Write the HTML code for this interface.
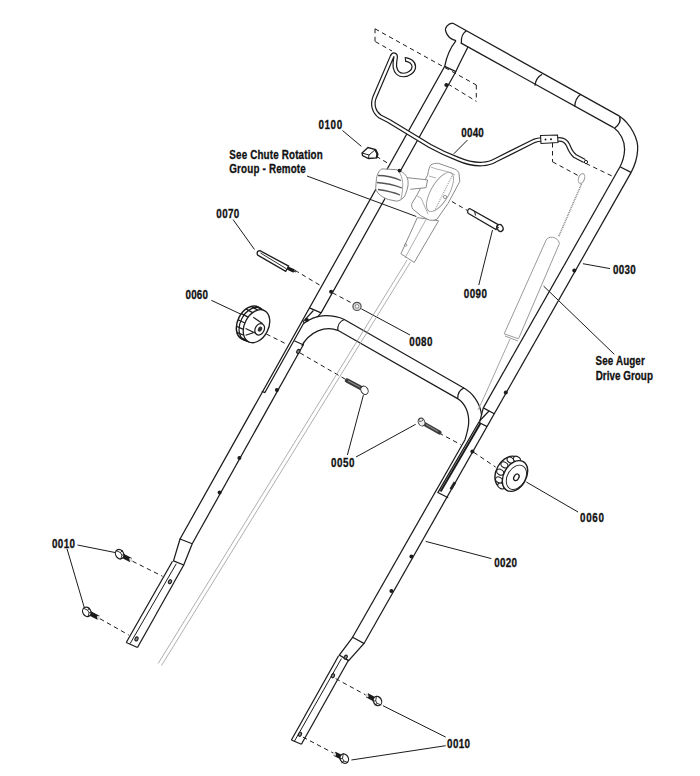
<!DOCTYPE html>
<html><head><meta charset="utf-8"><style>
html,body{margin:0;padding:0;background:#fff;}
svg{display:block;}
text{font-family:"Liberation Sans",sans-serif;fill:#111;stroke:#111;stroke-width:0.3px;}
</style></head><body>
<svg width="700" height="776" viewBox="0 0 700 776">
<rect width="700" height="776" fill="#fff"/>
<path d="M453,23.2 C448,23.5 444.5,27.5 445.8,31.5 C447,35.5 451,39.5 456,40.7" stroke="#1c1c1c" stroke-width="1.25" fill="none" />
<path d="M466.4,30.7 C462.5,33 461,36.5 461.4,43" stroke="#1c1c1c" stroke-width="1.25" fill="none" />
<line x1="453" y1="23.22" x2="619" y2="115.85" stroke="#1c1c1c" stroke-width="1.25" />
<line x1="460.7" y1="42.9" x2="613.6" y2="127.61" stroke="#1c1c1c" stroke-width="1.25" />
<path d="M542.1,74.3 C538,76.5 535.5,80.5 535,85.7" stroke="#1c1c1c" stroke-width="1.25" fill="none" />
<path d="M580.5,94.5 C577,97 575,101 574.8,106.5" stroke="#1c1c1c" stroke-width="1.25" fill="none" />
<path d="M619.4,116.6 C621.5,120 619,125 614.8,128" stroke="#1c1c1c" stroke-width="1.25" fill="none" />
<path d="M619,115.85080000000002 C631,124 639,140 637.6,150.6 C637,160 634,167 631,172.6" stroke="#1c1c1c" stroke-width="1.25" fill="none" />
<path d="M613.6,127.60660000000001 C620,132 625,141 624.6,149.5 C624.3,157 622,163 620,166.8" stroke="#1c1c1c" stroke-width="1.25" fill="none" />
<path d="M620,166.8 L631,172.4" stroke="#1c1c1c" stroke-width="1.25" fill="none" />
<line x1="631" y1="172.6" x2="364.0" y2="643.5" stroke="#1c1c1c" stroke-width="1.25" />
<line x1="620" y1="166.8" x2="483.3" y2="407.9" stroke="#1c1c1c" stroke-width="1.25" />
<path d="M483.29630000000003,407.9 L494.2963,413.7" stroke="#1c1c1c" stroke-width="1.25" fill="none" />
<path d="M483.29630000000003,407.9 L479.5,422.7 L487.2,426.6" stroke="#1c1c1c" stroke-width="1.25" fill="none" />
<path d="M479.5,421 L489,411" stroke="#1c1c1c" stroke-width="1.25" fill="none" />
<path d="M456,40.7 C451,47 446.5,57 444.7,66.4 L180.04399999999993,539" stroke="#1c1c1c" stroke-width="1.25" fill="none" />
<path d="M467.9,47 C464,55 459,64 455.9,71.6 L321.13395,312.9" stroke="#1c1c1c" stroke-width="1.25" fill="none" />
<line x1="444.7" y1="66.4" x2="455.9" y2="71.6" stroke="#1c1c1c" stroke-width="1.25" />
<line x1="309.46" y1="307.9" x2="321.13" y2="312.9" stroke="#1c1c1c" stroke-width="1.25" />
<path d="M303.6,323.4 C309,319.5 315,316.3 322,315.8 C330,315.3 338,316.5 344.3,319.5 L463.4,387.8 C472,392.5 480,402 481.6,415" stroke="#1c1c1c" stroke-width="1.25" fill="none" />
<path d="M301.9,346.1 C304,341 310,334 318,330.8 C325,328 332,328 337.8,330.3 L457.6,398.6 C465,403 469.5,413 468.6,424 C468,430 466.5,435 465,439.8" stroke="#1c1c1c" stroke-width="1.25" fill="none" />
<path d="M344.3,319.5 C340,321 337.5,325.5 337.8,330.3" stroke="#1c1c1c" stroke-width="1.25" fill="none" />
<path d="M464,388 C459.5,390 457.5,394 457.8,398.4" stroke="#1c1c1c" stroke-width="1.25" fill="none" />
<line x1="294.3" y1="340.7" x2="303.6" y2="345" stroke="#1c1c1c" stroke-width="1.25" />
<line x1="303.6" y1="344.3" x2="192.2" y2="543.75" stroke="#1c1c1c" stroke-width="1.25" />
<path d="M313.4,310.5 L302.7,322.1" stroke="#1c1c1c" stroke-width="1.25" fill="none" />
<line x1="321.13" y1="312.9" x2="317.3" y2="317.2" stroke="#1c1c1c" stroke-width="1.25" />
<path d="M304.364,322 L264.88399999999996,392.5 L261.78399999999993,391.3" stroke="#1c1c1c" stroke-width="1.25" fill="none" />
<path d="M479.1,421.8 L437.9,492.6 L448.2,497.8" stroke="#1c1c1c" stroke-width="1.25" fill="none" />
<line x1="480.6" y1="423" x2="440.6" y2="491.5" stroke="#1c1c1c" stroke-width="2.0" />
<line x1="450.8" y1="489.2" x2="455" y2="482.3" stroke="#222" stroke-width="2.8" />
<path d="M180.04399999999993,539 L173.5,560.8 L183.75,565 L192.204225,543.75 Z" stroke="#1c1c1c" stroke-width="1.25" fill="none" />
<line x1="172.5" y1="561.25" x2="126.25" y2="642.5" stroke="#1c1c1c" stroke-width="1.25" />
<line x1="183.75" y1="565" x2="137.5" y2="647.5" stroke="#1c1c1c" stroke-width="1.25" />
<line x1="176.25" y1="563.75" x2="130" y2="643.75" stroke="#1c1c1c" stroke-width="1.0" />
<line x1="126.25" y1="642.5" x2="137.5" y2="647.5" stroke="#1c1c1c" stroke-width="1.25" />
<line x1="465" y1="439.8" x2="352.6" y2="637.3" stroke="#1c1c1c" stroke-width="1.25" />
<path d="M352.6,637.3 L339.3,655.1 L348.6,660.6 L363.9997,643.5 Z" stroke="#1c1c1c" stroke-width="1.25" fill="none" />
<line x1="338.6" y1="655.7" x2="291.4" y2="740" stroke="#1c1c1c" stroke-width="1.25" />
<line x1="348.6" y1="660" x2="301.4" y2="744.3" stroke="#1c1c1c" stroke-width="1.25" />
<line x1="341.4" y1="658.6" x2="294.3" y2="741.4" stroke="#1c1c1c" stroke-width="1.0" />
<line x1="291.4" y1="740" x2="301.4" y2="744.3" stroke="#1c1c1c" stroke-width="1.25" />
<circle cx="446.3" cy="85" r="2.0" fill="#1c1c1c"/>
<circle cx="331.1" cy="291.7" r="2.0" fill="#1c1c1c"/>
<circle cx="306.9" cy="320" r="2.0" fill="#1c1c1c"/>
<circle cx="276.9" cy="389.9" r="2.0" fill="#1c1c1c"/>
<circle cx="239.4" cy="457.9" r="2.0" fill="#1c1c1c"/>
<circle cx="219.6" cy="492.6" r="2.0" fill="#1c1c1c"/>
<circle cx="574.3" cy="270.6" r="2.0" fill="#1c1c1c"/>
<circle cx="505.8" cy="392.5" r="2.0" fill="#1c1c1c"/>
<circle cx="472.4" cy="451.6" r="2.0" fill="#1c1c1c"/>
<circle cx="411.4" cy="556.6" r="2.0" fill="#1c1c1c"/>
<circle cx="391.4" cy="590.9" r="2.0" fill="#1c1c1c"/>
<ellipse cx="170" cy="581.7" rx="1.5" ry="2.1" transform="rotate(30 170 581.7)" fill="#888" stroke="#1c1c1c" stroke-width="1.1"/>
<ellipse cx="136.5" cy="638.9" rx="1.5" ry="2.1" transform="rotate(30 136.5 638.9)" fill="#888" stroke="#1c1c1c" stroke-width="1.1"/>
<ellipse cx="332.9" cy="675.7" rx="1.5" ry="2.1" transform="rotate(30 332.9 675.7)" fill="#888" stroke="#1c1c1c" stroke-width="1.1"/>
<ellipse cx="300" cy="734.3" rx="1.5" ry="2.1" transform="rotate(30 300 734.3)" fill="#888" stroke="#1c1c1c" stroke-width="1.1"/>
<ellipse cx="345.7" cy="657.1" rx="1.5" ry="2.1" transform="rotate(30 345.7 657.1)" fill="#888" stroke="#1c1c1c" stroke-width="1.1"/>
<ellipse cx="298.3" cy="351.4" rx="1.5" ry="2.1" transform="rotate(30 298.3 351.4)" fill="#888" stroke="#1c1c1c" stroke-width="1.1"/>
<line x1="375" y1="28.8" x2="476.3" y2="85" stroke="#1c1c1c" stroke-width="1.0" stroke-dasharray="4.5 3.5" />
<line x1="375" y1="28.8" x2="375" y2="41.3" stroke="#1c1c1c" stroke-width="1.0" stroke-dasharray="4.5 3.5" />
<line x1="375.3" y1="41.6" x2="392" y2="51" stroke="#1c1c1c" stroke-width="1.0" stroke-dasharray="4.5 3.5" />
<line x1="448" y1="84" x2="476.3" y2="101.3" stroke="#1c1c1c" stroke-width="1.0" stroke-dasharray="4.5 3.5" />
<line x1="476.3" y1="85" x2="476.3" y2="101.3" stroke="#1c1c1c" stroke-width="1.0" stroke-dasharray="4.5 3.5" />
<path d="M405.5,59.3 C409.5,59.8 414,62.5 413.8,67 C413.5,71.5 408.5,75 403.5,75 C399,75 395.8,72 395,67.5 C394.4,63.5 395.3,59.5 395.6,57.5 C396,54.5 393.2,53.5 391.9,56.8 L374.5,97.5 C372,104 373.5,112 380,116.5 L388.8,121 L430,146 C440,151.5 450,156 458,159 C466,162.5 474,164.3 482,164 C488,163.6 492,162.3 495,160.5 L534,141 C537,139.8 539,139.5 541.4,139.5 L558,139.5 C563,139 566,141 568,145 C570,150 571,153 575,156 L584.5,161" stroke="#1c1c1c" stroke-width="4.7" fill="none" stroke-linejoin="round"/>
<path d="M405.5,59.3 C409.5,59.8 414,62.5 413.8,67 C413.5,71.5 408.5,75 403.5,75 C399,75 395.8,72 395,67.5 C394.4,63.5 395.3,59.5 395.6,57.5 C396,54.5 393.2,53.5 391.9,56.8 L374.5,97.5 C372,104 373.5,112 380,116.5 L388.8,121 L430,146 C440,151.5 450,156 458,159 C466,162.5 474,164.3 482,164 C488,163.6 492,162.3 495,160.5 L534,141 C537,139.8 539,139.5 541.4,139.5 L558,139.5 C563,139 566,141 568,145 C570,150 571,153 575,156 L584.5,161" stroke="#fff" stroke-width="2.3" fill="none" stroke-linejoin="round"/>
<line x1="405.2" y1="57" x2="405.7" y2="61.6" stroke="#1c1c1c" stroke-width="1.1" />
<path d="M540.5,135.5 L557.5,135 L558,142.5 L541,143.5 Z" stroke="#1c1c1c" stroke-width="1.1" fill="#fff" />
<circle cx="545.5" cy="139.5" r="1.0" fill="#1c1c1c"/>
<circle cx="551" cy="139.2" r="1.0" fill="#1c1c1c"/>
<circle cx="586" cy="162" r="1.6" fill="#fff" stroke="#1c1c1c" stroke-width="1"/>
<line x1="552.5" y1="143" x2="552.5" y2="161.8" stroke="#1c1c1c" stroke-width="1.0" stroke-dasharray="4.5 3.5" />
<line x1="552.5" y1="161.8" x2="578" y2="175.5" stroke="#1c1c1c" stroke-width="1.0" stroke-dasharray="4.5 3.5" />
<line x1="586" y1="163.5" x2="613.6" y2="176.8" stroke="#1c1c1c" stroke-width="1.0" stroke-dasharray="4.5 3.5" />
<text transform="translate(318.4 129.1) scale(0.8 1)" x="0" y="0" font-size="12.3" font-weight="bold" textLength="29.75" lengthAdjust="spacing">0100</text>
<text transform="translate(229.3 159.2) scale(0.8 1)" x="0" y="0" font-size="12.3" font-weight="bold" textLength="116.75" lengthAdjust="spacing">See Chute Rotation</text>
<text transform="translate(229.3 173.3) scale(0.8 1)" x="0" y="0" font-size="12.3" font-weight="bold" textLength="95.62" lengthAdjust="spacing">Group - Remote</text>
<text transform="translate(216.3 217.8) scale(0.8 1)" x="0" y="0" font-size="12.3" font-weight="bold" textLength="28.75" lengthAdjust="spacing">0070</text>
<text transform="translate(185.5 299) scale(0.8 1)" x="0" y="0" font-size="12.3" font-weight="bold" textLength="28.12" lengthAdjust="spacing">0060</text>
<text transform="translate(461.3 137) scale(0.8 1)" x="0" y="0" font-size="12.3" font-weight="bold" textLength="28.12" lengthAdjust="spacing">0040</text>
<text transform="translate(463.8 297.5) scale(0.8 1)" x="0" y="0" font-size="12.3" font-weight="bold" textLength="29.00" lengthAdjust="spacing">0090</text>
<text transform="translate(409.2 345.6) scale(0.8 1)" x="0" y="0" font-size="12.3" font-weight="bold" textLength="29.12" lengthAdjust="spacing">0080</text>
<text transform="translate(612.9 274.3) scale(0.8 1)" x="0" y="0" font-size="12.3" font-weight="bold" textLength="28.50" lengthAdjust="spacing">0030</text>
<text transform="translate(595.6 365.3) scale(0.8 1)" x="0" y="0" font-size="12.3" font-weight="bold" textLength="61.50" lengthAdjust="spacing">See Auger</text>
<text transform="translate(595.7 380) scale(0.8 1)" x="0" y="0" font-size="12.3" font-weight="bold" textLength="71.50" lengthAdjust="spacing">Drive Group</text>
<text transform="translate(331 467.2) scale(0.8 1)" x="0" y="0" font-size="12.3" font-weight="bold" textLength="29.38" lengthAdjust="spacing">0050</text>
<text transform="translate(580 521.5) scale(0.8 1)" x="0" y="0" font-size="12.3" font-weight="bold" textLength="30.00" lengthAdjust="spacing">0060</text>
<text transform="translate(494.3 567) scale(0.8 1)" x="0" y="0" font-size="12.3" font-weight="bold" textLength="28.50" lengthAdjust="spacing">0020</text>
<text transform="translate(52 547.5) scale(0.8 1)" x="0" y="0" font-size="12.3" font-weight="bold" textLength="28.75" lengthAdjust="spacing">0010</text>
<text transform="translate(447.1 747.8) scale(0.8 1)" x="0" y="0" font-size="12.3" font-weight="bold" textLength="28.62" lengthAdjust="spacing">0010</text>
<line x1="342.5" y1="130.5" x2="361.3" y2="146.3" stroke="#1c1c1c" stroke-width="1.0" />
<line x1="307" y1="176" x2="416.3" y2="216.5" stroke="#1c1c1c" stroke-width="1.0" />
<line x1="467.5" y1="140" x2="453.8" y2="153.8" stroke="#1c1c1c" stroke-width="1.0" />
<line x1="233" y1="219.5" x2="254.5" y2="249.5" stroke="#1c1c1c" stroke-width="1.0" />
<line x1="211.3" y1="300.3" x2="241.1" y2="314.3" stroke="#1c1c1c" stroke-width="1.0" />
<line x1="492.5" y1="230" x2="478.8" y2="285" stroke="#1c1c1c" stroke-width="1.0" />
<line x1="361.3" y1="308.8" x2="410" y2="335" stroke="#1c1c1c" stroke-width="1.0" />
<line x1="582.9" y1="263.7" x2="610" y2="268.6" stroke="#1c1c1c" stroke-width="1.0" />
<line x1="543.6" y1="286.1" x2="614.3" y2="354.3" stroke="#1c1c1c" stroke-width="1.0" />
<line x1="363.4" y1="395.1" x2="347.4" y2="455" stroke="#1c1c1c" stroke-width="1.0" />
<line x1="415.7" y1="424.3" x2="356" y2="457" stroke="#1c1c1c" stroke-width="1.0" />
<line x1="526.3" y1="482" x2="578" y2="512" stroke="#1c1c1c" stroke-width="1.0" />
<line x1="425.7" y1="541.4" x2="491.4" y2="558.6" stroke="#1c1c1c" stroke-width="1.0" />
<line x1="77.5" y1="545" x2="115" y2="552.5" stroke="#1c1c1c" stroke-width="1.0" />
<line x1="67" y1="548.75" x2="85" y2="610" stroke="#1c1c1c" stroke-width="1.0" />
<line x1="382.9" y1="705.7" x2="445.7" y2="737.1" stroke="#1c1c1c" stroke-width="1.0" />
<line x1="351.4" y1="760" x2="445.7" y2="745.7" stroke="#1c1c1c" stroke-width="1.0" />
<line x1="376.3" y1="156.3" x2="388.8" y2="163.8" stroke="#1c1c1c" stroke-width="1.0" stroke-dasharray="4.5 3.5" />
<line x1="445" y1="197.5" x2="468.8" y2="211.3" stroke="#1c1c1c" stroke-width="1.0" stroke-dasharray="4.5 3.5" />
<line x1="295" y1="270.3" x2="320" y2="285.3" stroke="#1c1c1c" stroke-width="1.0" stroke-dasharray="4.5 3.5" />
<line x1="332.5" y1="292.8" x2="352.9" y2="303.6" stroke="#1c1c1c" stroke-width="1.0" stroke-dasharray="4.5 3.5" />
<line x1="266.3" y1="334" x2="286.3" y2="344" stroke="#1c1c1c" stroke-width="1.0" stroke-dasharray="4.5 3.5" />
<line x1="300" y1="352.9" x2="345.1" y2="379.1" stroke="#1c1c1c" stroke-width="1.0" stroke-dasharray="4.5 3.5" />
<line x1="439" y1="433" x2="460.8" y2="444.6" stroke="#1c1c1c" stroke-width="1.0" stroke-dasharray="4.5 3.5" />
<line x1="473.7" y1="452.3" x2="495.7" y2="467.1" stroke="#1c1c1c" stroke-width="1.0" stroke-dasharray="4.5 3.5" />
<line x1="132.5" y1="561.25" x2="162.5" y2="576.25" stroke="#1c1c1c" stroke-width="1.0" stroke-dasharray="4.5 3.5" />
<line x1="100" y1="618.75" x2="128.75" y2="635" stroke="#1c1c1c" stroke-width="1.0" stroke-dasharray="4.5 3.5" />
<line x1="335.7" y1="678.6" x2="367.1" y2="695.7" stroke="#1c1c1c" stroke-width="1.0" stroke-dasharray="4.5 3.5" />
<line x1="302.9" y1="737.1" x2="335.7" y2="754.3" stroke="#1c1c1c" stroke-width="1.0" stroke-dasharray="4.5 3.5" />
<circle cx="357" cy="306.4" r="4.1" fill="#d8d8d8" stroke="#555" stroke-width="1.2"/>
<circle cx="357" cy="306.4" r="1.8" fill="#fff" stroke="#777" stroke-width="0.8"/>
<path d="M469.6,208.6 L497.8,224.4 L496,229.6 L468.5,213.6 C467,212.6 467.5,208.8 469.6,208.6 Z" stroke="#1c1c1c" stroke-width="1.2" fill="#fff" />
<line x1="474.5" y1="210.8" x2="475.5" y2="215.5" stroke="#1c1c1c" stroke-width="1.0" />
<ellipse cx="500" cy="228" rx="2.9" ry="3.6" transform="rotate(-30 500 228)" fill="#fff" stroke="#1c1c1c" stroke-width="1.3"/>
<line x1="496.5" y1="226.5" x2="498.5" y2="228" stroke="#333" stroke-width="1.8" />
<line x1="347" y1="380.5" x2="361" y2="388" stroke="#3a3a3a" stroke-width="4.4" stroke-linecap="round"/>
<line x1="348" y1="380.8" x2="360" y2="387.2" stroke="#888" stroke-width="1.2" />
<ellipse cx="364.5" cy="390.3" rx="3.4" ry="4.4" transform="rotate(-30 364.5 390.3)" fill="#fff" stroke="#333" stroke-width="1"/>
<line x1="424.5" y1="424" x2="439.5" y2="432.5" stroke="#3a3a3a" stroke-width="4.2" stroke-linecap="round"/>
<line x1="426" y1="424.6" x2="438" y2="431.4" stroke="#888" stroke-width="1.2" />
<ellipse cx="421.5" cy="422" rx="3.2" ry="4.2" transform="rotate(-25 421.5 422)" fill="#eee" stroke="#444" stroke-width="1"/>
<ellipse cx="421" cy="419.8" rx="2.4" ry="1.4" transform="rotate(-25 421 419.8)" fill="none" stroke="#444" stroke-width="0.8"/>
<path d="M260,250.7 C256.5,250.5 256.5,255 258.6,255.7 L285.7,271.4 L288.6,266.1 Z" stroke="#1c1c1c" stroke-width="1.3" fill="#fff" />
<path d="M260.5,253 L286,268.5" stroke="#333" stroke-width="1.0" fill="none" />
<line x1="287.5" y1="268" x2="294.2" y2="271.2" stroke="#1a1a1a" stroke-width="3.6" />
<line x1="294" y1="271.2" x2="296" y2="272" stroke="#1c1c1c" stroke-width="1.0" />
<path d="M362,153 L368,147.5 L375.5,149.5 L377.5,154 L376.5,158 L368.5,158.5 L362.5,155.5 Z" stroke="#1c1c1c" stroke-width="1.3" fill="#fff" />
<path d="M362,153 L369,155 L375.5,149.5 M369,155 L368.5,158.5" stroke="#1c1c1c" stroke-width="1.0" fill="none" />
<path d="M375.5,150 L377.5,154 L376.5,158" stroke="#1c1c1c" stroke-width="2.0" fill="none" />
<line x1="119.6" y1="554.2" x2="130.8" y2="560" stroke="#1a1a1a" stroke-width="4.6" />
<ellipse cx="130.8" cy="560" rx="1.3" ry="2.2" transform="rotate(-30 130.8 560)" fill="#ddd"/>
<g transform="translate(119.6 554.2) rotate(-28)">
<ellipse cx="0" cy="0" rx="4.0" ry="4.9" fill="#fff" stroke="#1c1c1c" stroke-width="1.2"/>
<path d="M-1.5,-5 L1.5,-1 L1.5,2 L-1.5,5.2 M1.5,-1 L4.4,-2 M1.5,2 L4.4,2.5" stroke="#1c1c1c" stroke-width="0.8" fill="none"/>
</g>
<line x1="86.8" y1="611.8" x2="98.5" y2="617.8" stroke="#1a1a1a" stroke-width="4.6" />
<ellipse cx="98.5" cy="617.8" rx="1.3" ry="2.2" transform="rotate(-30 98.5 617.8)" fill="#ddd"/>
<g transform="translate(86.8 611.8) rotate(-28)">
<ellipse cx="0" cy="0" rx="4.0" ry="4.9" fill="#fff" stroke="#1c1c1c" stroke-width="1.2"/>
<path d="M-1.5,-5 L1.5,-1 L1.5,2 L-1.5,5.2 M1.5,-1 L4.4,-2 M1.5,2 L4.4,2.5" stroke="#1c1c1c" stroke-width="0.8" fill="none"/>
</g>
<line x1="377.5" y1="701" x2="367" y2="695.3" stroke="#1a1a1a" stroke-width="4.6" />
<ellipse cx="367" cy="695.3" rx="1.3" ry="2.2" transform="rotate(-30 367 695.3)" fill="#ddd"/>
<g transform="translate(377.5 701) rotate(-28)">
<ellipse cx="0" cy="0" rx="4.0" ry="4.9" fill="#fff" stroke="#1c1c1c" stroke-width="1.2"/>
<path d="M1.5,-5 L-1.5,-1 L-1.5,2 L1.5,5.2 M-1.5,-1 L-4.4,-2 M-1.5,2 L-4.4,2.5" stroke="#1c1c1c" stroke-width="0.8" fill="none"/>
</g>
<line x1="344.3" y1="758.6" x2="334.5" y2="753.8" stroke="#1a1a1a" stroke-width="4.6" />
<ellipse cx="334.5" cy="753.8" rx="1.3" ry="2.2" transform="rotate(-30 334.5 753.8)" fill="#ddd"/>
<g transform="translate(344.3 758.6) rotate(-28)">
<ellipse cx="0" cy="0" rx="4.0" ry="4.9" fill="#fff" stroke="#1c1c1c" stroke-width="1.2"/>
<path d="M1.5,-5 L-1.5,-1 L-1.5,2 L1.5,5.2 M-1.5,-1 L-4.4,-2 M-1.5,2 L-4.4,2.5" stroke="#1c1c1c" stroke-width="0.8" fill="none"/>
</g>
<ellipse cx="250" cy="323" rx="12.3" ry="18" transform="rotate(27 250 323)" fill="#fff" stroke="#1c1c1c" stroke-width="1.5"/>
<line x1="243.21" y1="339.59" x2="249.91" y2="342.3" stroke="#1c1c1c" stroke-width="1.3" />
<line x1="239.23" y1="337.0" x2="246.05" y2="339.78" stroke="#1c1c1c" stroke-width="1.3" />
<line x1="236.85" y1="332.33" x2="243.74" y2="335.25" stroke="#1c1c1c" stroke-width="1.3" />
<line x1="236.41" y1="326.27" x2="243.32" y2="329.38" stroke="#1c1c1c" stroke-width="1.3" />
<line x1="238.0" y1="319.74" x2="244.86" y2="323.03" stroke="#1c1c1c" stroke-width="1.3" />
<line x1="241.36" y1="313.68" x2="248.12" y2="317.16" stroke="#1c1c1c" stroke-width="1.3" />
<line x1="246.0" y1="309.01" x2="252.62" y2="312.63" stroke="#1c1c1c" stroke-width="1.3" />
<line x1="251.24" y1="306.41" x2="257.7" y2="310.11" stroke="#1c1c1c" stroke-width="1.3" />
<line x1="256.29" y1="306.27" x2="262.6" y2="309.97" stroke="#1c1c1c" stroke-width="1.3" />
<ellipse cx="252.60" cy="324.28" rx="12.177000000000001" ry="17.82" transform="rotate(27 252.60 324.28)" fill="none" stroke="#1c1c1c" stroke-width="1.2"/>
<ellipse cx="256.5" cy="326.2" rx="11.931000000000001" ry="17.46" transform="rotate(27 256.5 326.2)" fill="#fff" stroke="#1c1c1c" stroke-width="1.3"/>
<path d="M253.3,317.3 L262.7,323.7 M245.6,328.4 L256.7,333.6 M245.6,335.3 L253.3,332.7" stroke="#1c1c1c" stroke-width="1.1" fill="none" />
<ellipse cx="259.7" cy="329.3" rx="4.5" ry="6" transform="rotate(27 259.7 329.3)" fill="#fff" stroke="#1c1c1c" stroke-width="1.2"/>
<ellipse cx="260" cy="329.2" rx="2" ry="2.7" transform="rotate(27 260 329.2)" fill="#333"/>
<ellipse cx="508" cy="472" rx="11.5" ry="17" transform="rotate(30 508 472)" fill="#fff" stroke="#1c1c1c" stroke-width="1.4"/>
<ellipse cx="501.35" cy="485.92" rx="3.7" ry="2.7" transform="rotate(30.0 501.35 485.92)" fill="#fff" stroke="#1c1c1c" stroke-width="1.0"/>
<ellipse cx="499.03" cy="479.92" rx="3.7" ry="2.7" transform="rotate(30.0 499.03 479.92)" fill="#fff" stroke="#1c1c1c" stroke-width="1.0"/>
<ellipse cx="500.16" cy="472.18" rx="3.7" ry="2.7" transform="rotate(30.0 500.16 472.18)" fill="#fff" stroke="#1c1c1c" stroke-width="1.0"/>
<ellipse cx="504.42" cy="464.90" rx="3.7" ry="2.7" transform="rotate(30.0 504.42 464.90)" fill="#fff" stroke="#1c1c1c" stroke-width="1.0"/>
<ellipse cx="510.59" cy="460.15" rx="3.7" ry="2.7" transform="rotate(30.0 510.59 460.15)" fill="#fff" stroke="#1c1c1c" stroke-width="1.0"/>
<ellipse cx="516.92" cy="459.29" rx="3.7" ry="2.7" transform="rotate(30.0 516.92 459.29)" fill="#fff" stroke="#1c1c1c" stroke-width="1.0"/>
<ellipse cx="515" cy="476" rx="11.155" ry="16.49" transform="rotate(30 515 476)" fill="#fff" stroke="#1c1c1c" stroke-width="1.4"/>
<ellipse cx="516.4" cy="477.3" rx="9" ry="13" transform="rotate(30 516.4 477.3)" fill="none" stroke="#1c1c1c" stroke-width="0.9"/>
<ellipse cx="516.4" cy="477.3" rx="2.4" ry="3.5" transform="rotate(30 516.4 477.3)" fill="none" stroke="#1c1c1c" stroke-width="1.3"/>
<line x1="410.49" y1="262" x2="161.53" y2="665.5" stroke="#9a9a9a" stroke-width="0.8" />
<line x1="407.12" y1="260" x2="158.16" y2="663.5" stroke="#9a9a9a" stroke-width="0.8" />
<ellipse cx="581.5" cy="178.5" rx="3" ry="5" transform="rotate(20 581.5 178.5)" fill="none" stroke="#9a9a9a" stroke-width="1"/>
<line x1="581.5" y1="184" x2="558.5" y2="237" stroke="#8a8a8a" stroke-width="1.6" stroke-dasharray="1 0.8" />
<path d="M546.1,240.1 C548,236 557,235.5 559.5,243.4 L518.5,338.8 L504.2,333.8 Z" stroke="#9a9a9a" stroke-width="1.0" fill="#fff" />
<line x1="505" y1="336" x2="518" y2="341" stroke="#9a9a9a" stroke-width="1.0" />
<line x1="510" y1="339" x2="485" y2="395" stroke="#9a9a9a" stroke-width="0.9" />
<line x1="485" y1="395" x2="478" y2="410" stroke="#9a9a9a" stroke-width="0.9" />
<path d="M417.4,217.6 L438.6,220.8 L414.2,262.4 L400.9,253.8 Z" stroke="#8a8a8a" stroke-width="1.0" fill="#fff" />
<path d="M426,219.5 L405,258" stroke="#9a9a9a" stroke-width="0.8" fill="none" />
<circle cx="405.6" cy="245.1" r="1.3" fill="none" stroke="#8a8a8a" stroke-width="0.8"/>
<path d="M430.8,164.9 C433,163.5 436,163 438.6,163.4 L454.3,168.9 C457,170 459,172 459,173.6 L459.8,181.4 L448,203.5 L437,219.2 C434,220.5 431,220.5 429.2,220 L421.3,216 L412.7,209 C411.5,207 411.5,205 411.9,203.5 L416.6,195.6 L427.6,175.2 C428.5,170 429.5,166.5 430.8,164.9 Z" stroke="#8a8a8a" stroke-width="1.0" fill="#fff" />
<ellipse cx="440" cy="192" rx="9" ry="22" transform="rotate(30 440 192)" fill="none" stroke="#9a9a9a" stroke-width="0.9"/>
<path d="M431,167 C437,170 450,171 455,175 M429,176 L436,178 M416.6,195.6 L421,198 L428,214" stroke="#9a9a9a" stroke-width="0.8" fill="none" />
<path d="M452,176 L434,212" stroke="#aaa" stroke-width="1.4" fill="none" stroke-dasharray="1 1" />
<circle cx="445" cy="197" r="1.6" fill="none" stroke="#8a8a8a" stroke-width="0.9"/>
<path d="M405.6,177.5 L427.6,179.9 L426,187.7 L410.3,189.3" stroke="#8a8a8a" stroke-width="1.0" fill="#fff" />
<path d="M382,168.9 L397,169.7 C401,171 404,173 405.6,175.2 C408,178 409,183 407.2,189.3 C406,193 405,196 404,197.2 C401,200 399,201 396.2,201.1 L388.3,199.5 C384,198 381,196 378.9,194 C376.5,191.5 375.5,189 375.7,187.7 L376.5,178.3 C377.5,173 379.5,170 382,168.9 Z" stroke="#8a8a8a" stroke-width="1.0" fill="#fff" />
<path d="M399,172 C403,177 404,186 401,199" stroke="#9a9a9a" stroke-width="0.9" fill="none" />
<circle cx="399.5" cy="170.6" r="1.9" fill="#1c1c1c"/>
<path d="M378,175.5 C385,175.5 393,177 401,180.5 M377,182.5 C385,183 393,184.5 402,188 M378,189.5 C385,190.5 393,192 400,195" stroke="#555" stroke-width="1.3" fill="none" />
</svg>
</body></html>
